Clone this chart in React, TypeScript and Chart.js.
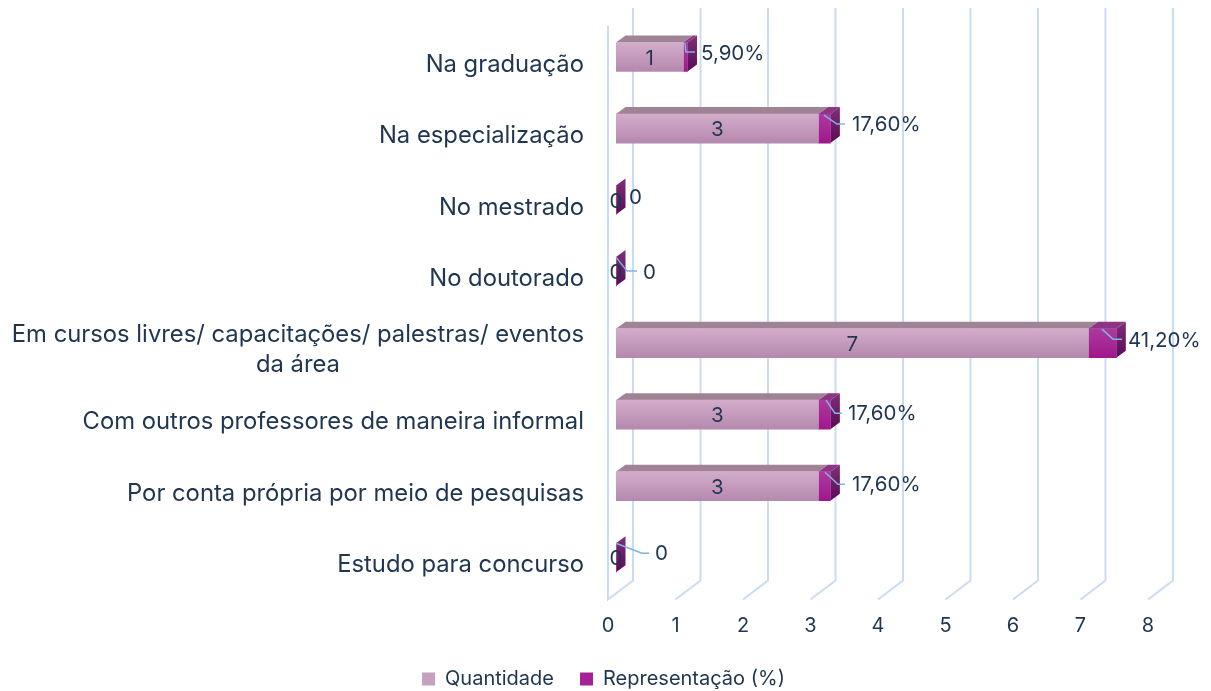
import React, { useEffect, useRef } from "react";
import { Chart, registerables } from "chart.js";

Chart.register(...registerables);

// ---- data ----
const categories: string[][] = [
  ["Na graduação"],
  ["Na especialização"],
  ["No mestrado"],
  ["No doutorado"],
  ["Em cursos livres/ capacitações/ palestras/ eventos", "da área"],
  ["Com outros professores de maneira informal"],
  ["Por conta própria por meio de pesquisas"],
  ["Estudo para concurso"],
];
const quantidade = [1, 3, 0, 0, 7, 3, 3, 0];
const representacao = [0.059, 0.176, 0, 0, 0.412, 0.176, 0.176, 0];
const seriesNames = ["Quantidade", "Representação (%)"];
const xTickMax = 8;

// ---- style ----
const FONT = "Inter";
const TEXT = "#1f3550";
const GRID = "#cadcf1";
const LEADER = "#7fb2e0";
const DEPTH_X = 9.5;
const DEPTH_Y = 7;
const BAR_H = 29;
const LEGEND_COLORS = ["#c6a0bf", "#a62096"];

// Leader polyline + label position, relative to the end of each stacked bar
const leaderOffsets: number[][][] = [
  [[-2.5, -14], [-1.5, -5], [7.5, -5]],
  [[-6.4, -13.5], [6.6, -4.5], [14.6, -4.5]],
  [],
  [[0, -14.5], [11, -0.5], [21, -0.5]],
  [[-14.3, -14], [-3.3, -4], [5.7, -4]],
  [[-4.4, -14.5], [4.6, -1.5], [11.6, -1.5]],
  [[-5.4, -14], [7.6, -2], [14.6, -2]],
  [[0, -14.5], [26, -4.5], [33, -4.5]],
];
const labelOffsets: number[][] = [
  [13.5, -3.5], [21.6, -4], [13, -2.5], [27, 1], [11.7, -2.5], [17.6, -1], [21.6, -1.5], [39, -4],
];

function poly(ctx: CanvasRenderingContext2D, pts: number[][], fill: string | CanvasGradient) {
  ctx.beginPath();
  pts.forEach((p, i) => (i ? ctx.lineTo(p[0], p[1]) : ctx.moveTo(p[0], p[1])));
  ctx.closePath();
  ctx.fillStyle = fill;
  ctx.fill();
}

const wallPlugin = {
  id: "wall3d",
  beforeDatasetsDraw(chart: any) {
    const { ctx, chartArea, scales } = chart;
    const wallTop = chartArea.top - 13.25;
    const wallBottom = chartArea.bottom - 13;
    const floor = chartArea.bottom + 6;
    ctx.save();
    ctx.strokeStyle = GRID;
    ctx.lineWidth = 2;
    scales.x.ticks.forEach((t: any) => {
      const fx = scales.x.getPixelForValue(t.value) - 8;
      const bx = fx + 25;
      ctx.beginPath();
      ctx.moveTo(bx, wallTop);
      ctx.lineTo(bx, wallBottom);
      ctx.lineTo(fx, floor);
      if (t.value === 0) ctx.lineTo(fx, wallTop + 18);
      ctx.stroke();
    });
    // depth faces of the bars
    const m0 = chart.getDatasetMeta(0).data;
    const m1 = chart.getDatasetMeta(1).data;
    const x0 = scales.x.getPixelForValue(0);
    m1.forEach((el: any, i: number) => {
      const top = el.y - BAR_H / 2;
      const bot = el.y + BAR_H / 2;
      const xq = m0[i].x;
      const xr = el.x;
      if (xq > x0) {
        poly(ctx, [[x0, top], [xq, top], [xq + DEPTH_X, top - DEPTH_Y], [x0 + DEPTH_X, top - DEPTH_Y]], "#a08496");
      }
      if (xr > xq) {
        poly(ctx, [[xq, top], [xr, top], [xr + DEPTH_X, top - DEPTH_Y], [xq + DEPTH_X, top - DEPTH_Y]], "#8b3583");
      }
      const g = ctx.createLinearGradient(0, top - DEPTH_Y, 0, bot);
      g.addColorStop(0, "#7f2f78");
      g.addColorStop(1, "#5a0b55");
      poly(ctx, [[xr, top], [xr + DEPTH_X, top - DEPTH_Y], [xr + DEPTH_X, bot - DEPTH_Y], [xr, bot]], g);
    });
    ctx.restore();
  },
  afterDatasetsDraw(chart: any) {
    const { ctx, scales } = chart;
    const m0 = chart.getDatasetMeta(0).data;
    const m1 = chart.getDatasetMeta(1).data;
    const x0 = scales.x.getPixelForValue(0);
    ctx.save();
    ctx.font = `20.5px ${FONT}`;
    ctx.fillStyle = TEXT;
    ctx.textBaseline = "middle";
    m1.forEach((el: any, i: number) => {
      // leader
      const lp = leaderOffsets[i];
      if (lp.length) {
        ctx.beginPath();
        lp.forEach((p, k) => (k ? ctx.lineTo(el.x + p[0], el.y + p[1]) : ctx.moveTo(el.x + p[0], el.y + p[1])));
        ctx.strokeStyle = LEADER;
        ctx.lineWidth = 1.5;
        ctx.stroke();
      }
      // Quantidade label
      ctx.textAlign = "center";
      ctx.fillStyle = TEXT;
      ctx.fillText(String(quantidade[i]), (x0 + m0[i].x) / 2, el.y + 1.5);
      // Representação label
      const v = representacao[i];
      const txt = v === 0 ? "0" : (v * 100).toFixed(2).replace(".", ",") + "%";
      ctx.textAlign = "left";
      ctx.fillText(txt, el.x + labelOffsets[i][0], el.y + labelOffsets[i][1]);
    });
    // category labels: block right aligned, lines centred inside the block
    ctx.font = `23.8px ${FONT}`;
    const right = x0 - 32;
    categories.forEach((lines, i) => {
      const cy = scales.y.getPixelForValue(i);
      const w = Math.max(...lines.map((l) => ctx.measureText(l).width));
      ctx.textAlign = "center";
      lines.forEach((l, k) => {
        const y = cy + 7.5 + (k - (lines.length - 1) / 2) * 30 - (lines.length > 1 ? 1 : 0);
        ctx.fillText(l, right - w / 2, y);
      });
    });
    ctx.restore();
  },
};

function band(c: any, a: string, b: string, solid: string) {
  if (c.type !== "data") return solid;
  const cy = c.chart.scales.y?.getPixelForValue(c.dataIndex);
  if (!Number.isFinite(cy)) return solid;
  const g = c.chart.ctx.createLinearGradient(0, cy - BAR_H / 2, 0, cy + BAR_H / 2);
  g.addColorStop(0, a);
  g.addColorStop(1, b);
  return g;
}

export default function App() {
  const ref = useRef<HTMLCanvasElement>(null);
  useEffect(() => {
    const chart = new Chart(ref.current as HTMLCanvasElement, {
      type: "bar",
      data: {
        labels: categories.map((c) => c.join(" ")),
        datasets: [
          {
            label: seriesNames[0],
            data: quantidade,
            barThickness: BAR_H,
            borderWidth: 0,
            backgroundColor: (c: any) => band(c, "#d3adca", "#b588ae", LEGEND_COLORS[0]),
          },
          {
            label: seriesNames[1],
            data: representacao,
            barThickness: BAR_H,
            borderWidth: 0,
            backgroundColor: (c: any) => band(c, "#ac3a9f", "#a0178b", LEGEND_COLORS[1]),
          },
        ],
      } as any,
      options: {
        indexAxis: "y",
        responsive: false,
        animation: false,
        layout: { padding: { left: 51, right: 55, top: 21.25, bottom: -8 } },
        scales: {
          x: {
            stacked: true,
            min: 0,
            max: xTickMax,
            grid: { display: false, drawTicks: false },
            border: { display: false },
            ticks: { stepSize: 1, padding: 20, labelOffset: -8, color: TEXT, font: { family: FONT, size: 20 }, maxRotation: 0 },
            afterFit(s: any) {
              s.height = 49.5;
            },
          },
          y: {
            stacked: true,
            grid: { display: false, drawTicks: false },
            border: { display: false },
            ticks: { display: false },
            afterFit(s: any) {
              s.width = 565;
            },
          },
        },
        plugins: {
          tooltip: { enabled: false },
          legend: {
            position: "bottom",
            labels: {
              boxWidth: 13,
              boxHeight: 13,
              padding: 26,
              color: TEXT,
              font: { family: FONT, size: 20 },
              generateLabels(ch: any) {
                const items = (Chart as any).defaults.plugins.legend.labels.generateLabels(ch);
                items.forEach((it: any, i: number) => {
                  it.fillStyle = LEGEND_COLORS[i];
                  it.strokeStyle = LEGEND_COLORS[i];
                  it.lineWidth = 0;
                });
                return items;
              },
            },
          },
        },
      } as any,
      plugins: [wallPlugin],
    });
    return () => chart.destroy();
  }, []);
  return (
    <div style={{ position: "absolute", left: 0, top: 0, width: 1211, height: 691, background: "#fff" }}>
      <canvas ref={ref} width={1211} height={691} style={{ display: "block" }} />
    </div>
  );
}
